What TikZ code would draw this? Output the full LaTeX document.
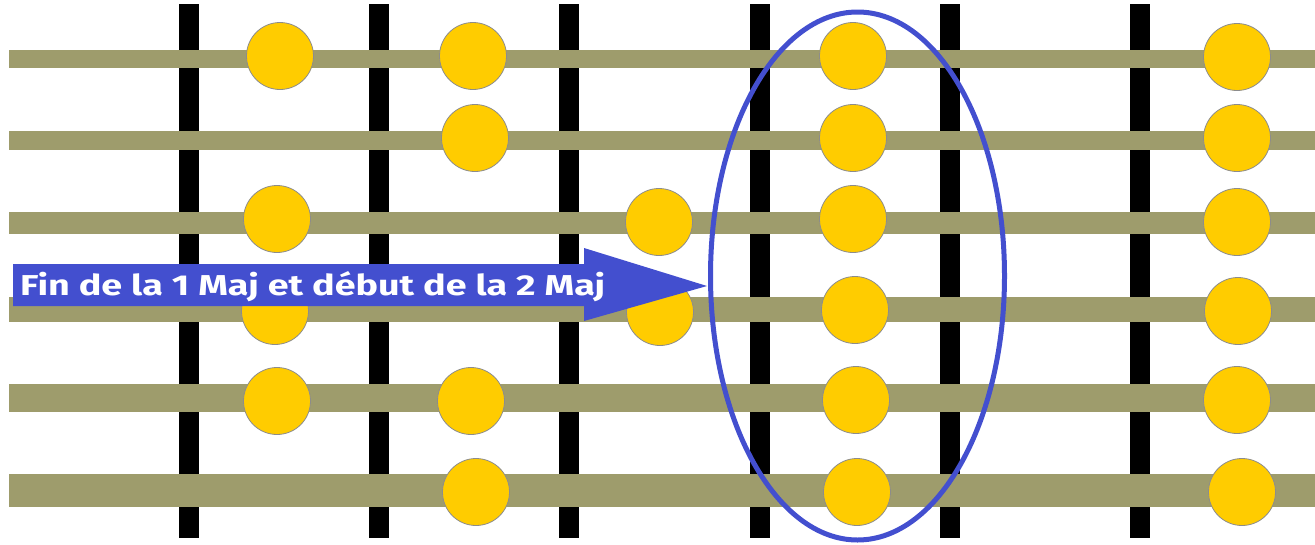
\documentclass[tikz,border=0pt]{standalone}
\usepackage{fontspec}
\usepackage{graphicx}
\newfontfamily\labfont{Fira Sans}
\definecolor{stringcol}{RGB}{158,156,108}
\definecolor{dotcol}{RGB}{255,204,0}
\definecolor{dotedge}{RGB}{140,140,140}
\definecolor{bluecol}{RGB}{67,79,207}
\usetikzlibrary{shapes.geometric}
\tikzset{
  fretbar/.style={fill=black},
  stringbar/.style={fill=stringcol},
  notedot/.style={circle, fill=dotcol, draw=dotedge, line width=0.8pt, minimum size=67pt, inner sep=0pt},
  arrowbody/.style={fill=bluecol},
  ringmark/.style={ellipse, draw=bluecol, line width=5pt, minimum width=294pt, minimum height=528pt, inner sep=0pt},
  labeltext/.style={text=white, inner sep=0pt, anchor=base west, font=\labfont\bfseries}
}
\begin{document}
\begin{tikzpicture}[x=1pt,y=-1pt]
\useasboundingbox (0,0) rectangle (1315,544);
% frets
\foreach \fx in {189,379,569,760,950,1140}{
  \fill[fretbar] (\fx-10,4) rectangle (\fx+10,538);
}
% strings
\foreach \ya/\yb in {50/68,131/150,212/234,297/322,384/412,474/507}{
  \fill[stringbar] (9,\ya) rectangle (1315,\yb);
}
% dots
\node[notedot] (d11) at (280,56) {};
\node[notedot] (d12) at (473,56) {};
\node[notedot] (d13) at (853,56) {};
\node[notedot] (d14) at (1237,57) {};
\node[notedot] (d22) at (475,138) {};
\node[notedot] (d23) at (853,138) {};
\node[notedot] (d24) at (1237,138) {};
\node[notedot] (d31) at (277,219) {};
\node[notedot] (d32) at (659,222) {};
\node[notedot] (d33) at (853,219) {};
\node[notedot] (d34) at (1237,222) {};
\node[notedot] (d41) at (275,311) {};
\node[notedot] (d42) at (660,312) {};
\node[notedot] (d43) at (855,310) {};
\node[notedot] (d44) at (1238,311) {};
\node[notedot] (d51) at (277,401) {};
\node[notedot] (d52) at (471,401) {};
\node[notedot] (d53) at (856,400) {};
\node[notedot] (d54) at (1237,400) {};
\node[notedot] (d62) at (476,492) {};
\node[notedot] (d63) at (857,492) {};
\node[notedot] (d64) at (1242,492) {};
% ellipse
\node[ringmark] (ring) at (857.5,276) {};
% arrow
\coordinate (tip) at (707,286);
\fill[arrowbody] (13,264) -- (584,264) -- (584,248) -- (tip) -- (584,321) -- (584,306) -- (13,306) -- cycle;
\node[labeltext] (lab) at (20,295) {\resizebox{585pt}{24pt}{Fin de la 1 Maj et début de la 2 Maj}};
\end{tikzpicture}
\end{document}
